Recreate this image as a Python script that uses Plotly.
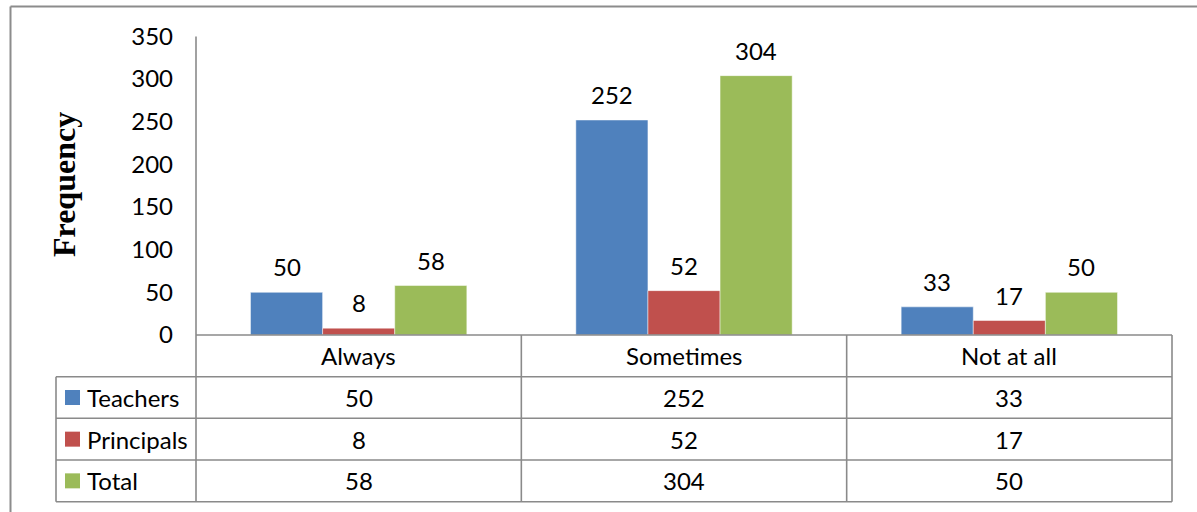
import plotly.graph_objects as go

# Survey responses by frequency category
categories = ["Always", "Sometimes", "Not at all"]
series_names = ["Teachers", "Principals", "Total"]
teachers = [50, 252, 33]
principals = [8, 52, 17]
total = [58, 304, 50]
y_ticks = [0, 50, 100, 150, 200, 250, 300, 350]

series_values = [teachers, principals, total]
series_colors = ["#4F81BD", "#C0504D", "#9BBB59"]

W, H = 1197, 512
LINE = "#8a8a8a"
FONT = "Lato"
FS = 24


def px(x):
    return x / W


def py(y):
    return 1 - y / H


# plot area and data-table geometry (pixels)
plot_left, plot_right = 196, 1172
plot_top, plot_bottom = 36.4, 335
table_left = 56
row_lines = [335, 376.7, 418.3, 460, 501.7]
bargap = 0.335
bar_px = (plot_right - plot_left) / len(categories) * (1 - bargap) / 3

fig = go.Figure()
for name, vals, col in zip(series_names, series_values, series_colors):
    fig.add_trace(go.Bar(
        x=categories, y=vals, name=name,
        marker=dict(color=col, line=dict(color="rgba(255,255,255,0.6)", width=0.8)),
        showlegend=False,
    ))

annotations = []
shapes = []

# value labels above each bar
for i, vals in enumerate(series_values):
    for cat, v in zip(categories, vals):
        annotations.append(dict(
            x=cat, y=v, xref="x", yref="y", text=str(v), showarrow=False,
            xshift=(i - 1) * bar_px, yanchor="bottom", yshift=9,
            font=dict(family=FONT, size=FS, color="black"),
        ))

# y-axis title
annotations.append(dict(
    x=px(64), y=py(185), xref="paper", yref="paper", text="<b>Frequency</b>",
    textangle=-90, showarrow=False, xanchor="center", yanchor="middle",
    font=dict(family="Liberation Serif", size=32, color="black"),
))

# data table: header row with category names
row_centers = [(row_lines[k] + row_lines[k + 1]) / 2 for k in range(4)]
for cat in categories:
    annotations.append(dict(
        x=cat, xref="x", y=py(row_centers[0]), yref="paper", text=cat,
        showarrow=False, yanchor="middle",
        font=dict(family=FONT, size=FS, color="black"),
    ))

# data table: one row per series
for r, (name, vals, col) in enumerate(zip(series_names, series_values, series_colors)):
    yc = row_centers[r + 1]
    shapes.append(dict(
        type="rect", xref="paper", yref="paper",
        x0=px(65), x1=px(80), y0=py(yc + 7.5), y1=py(yc - 7.5),
        fillcolor=col, line=dict(width=0),
    ))
    annotations.append(dict(
        x=px(85), y=py(yc), xref="paper", yref="paper", text=name,
        showarrow=False, xanchor="left", yanchor="middle",
        font=dict(family=FONT, size=FS, color="black"),
    ))
    for cat, v in zip(categories, vals):
        annotations.append(dict(
            x=cat, xref="x", y=py(yc), yref="paper", text=str(v),
            showarrow=False, yanchor="middle",
            font=dict(family=FONT, size=FS, color="black"),
        ))

# table grid lines
for k, yl in enumerate(row_lines):
    x0 = plot_left if k == 0 else table_left
    shapes.append(dict(type="line", xref="paper", yref="paper",
                       x0=px(x0), x1=px(plot_right), y0=py(yl), y1=py(yl),
                       line=dict(color=LINE, width=1.6)))
col_w = (plot_right - plot_left) / len(categories)
for c in range(1, len(categories) + 1):
    xl = plot_left + c * col_w
    shapes.append(dict(type="line", xref="paper", yref="paper",
                       x0=px(xl), x1=px(xl), y0=py(row_lines[0]), y1=py(row_lines[-1]),
                       line=dict(color=LINE, width=1.6)))
shapes.append(dict(type="line", xref="paper", yref="paper",
                   x0=px(table_left), x1=px(table_left), y0=py(row_lines[1]), y1=py(row_lines[-1]),
                   line=dict(color=LINE, width=1.6)))
shapes.append(dict(type="line", xref="paper", yref="paper",
                   x0=px(plot_left), x1=px(plot_left), y0=py(plot_top), y1=py(row_lines[-1]),
                   line=dict(color=LINE, width=1.6)))

# outer chart frame (top and left edges fall inside the canvas)
shapes.append(dict(type="line", xref="paper", yref="paper",
                   x0=px(10.5), x1=1, y0=py(6.5), y1=py(6.5),
                   line=dict(color="#8c8c8c", width=2)))
shapes.append(dict(type="line", xref="paper", yref="paper",
                   x0=px(10.5), x1=px(10.5), y0=0, y1=py(6.5),
                   line=dict(color="#8c8c8c", width=2)))

fig.update_layout(
    template="none",
    width=W, height=H,
    margin=dict(l=0, r=0, t=0, b=0, pad=0, autoexpand=False),
    paper_bgcolor="white", plot_bgcolor="white",
    barmode="group", bargap=bargap, bargroupgap=0,
    xaxis=dict(domain=[px(plot_left), px(plot_right)], range=[-0.5, 2.5],
               showticklabels=False, showgrid=False, zeroline=False, showline=False,
               automargin=False),
    yaxis=dict(domain=[py(plot_bottom), py(plot_top)], range=[0, 350],
               tickvals=y_ticks, showgrid=False, zeroline=False, showline=False,
               ticks="", ticklabelstandoff=22, automargin=False,
               tickfont=dict(family=FONT, size=FS, color="black")),
    annotations=annotations,
    shapes=shapes,
)

fig.write_html("out.html")
